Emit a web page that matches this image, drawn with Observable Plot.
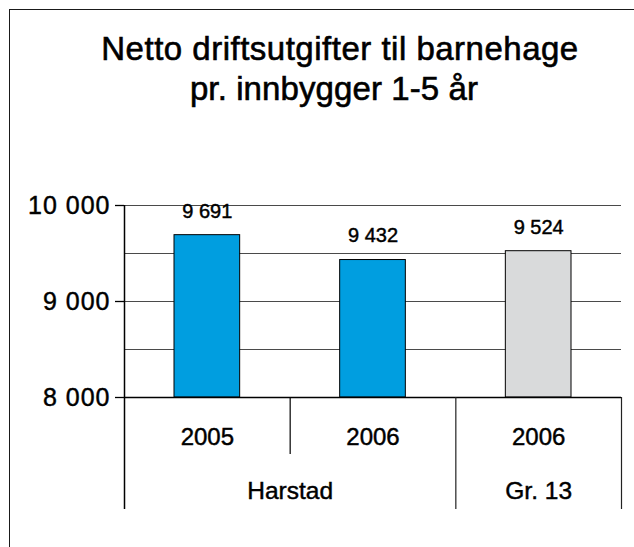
<!DOCTYPE html>
<html>
<head>
<meta charset="utf-8">
<script src="https://cdn.jsdelivr.net/npm/d3@7"></script>
<script src="https://cdn.jsdelivr.net/npm/@observablehq/plot@0.6"></script>
<style>
  body { margin: 0; background: #fff; }
  #wrap { position: relative; width: 634px; height: 547px; overflow: hidden;
          font-family: Arial, "Liberation Sans", Helvetica, sans-serif; color: #000; }
  #frame { position: absolute; left: 9px; top: 9px; width: 700px; height: 700px;
           border-top: 1.5px solid #1a1a1a; border-left: 1.5px solid #1a1a1a; }
  .t { position: absolute; left: 0; width: 634px; text-align: center; font-size: 33px;
       line-height: 40px; white-space: nowrap; color: #000; -webkit-text-stroke: 0.6px #000; }
  #t1 { top: 29px; left: 23px; letter-spacing: 0.5px; }
  #t2 { top: 69px; left: 17px; letter-spacing: 0.1px; }
  #chart { position: absolute; left: 0; top: 140px; }
  #chart text { stroke: #000; stroke-width: 0.45px; }
  g[aria-label="y-axis tick label"] text { letter-spacing: 1px; }
  g[aria-label="year labels"] text { letter-spacing: 1.3px; }
  g[aria-label="group labels"] text { letter-spacing: 1.1px; }
  g[aria-label="value labels"] text { letter-spacing: 0.5px; }
</style>
</head>
<body>
<div id="wrap">
  <div id="frame"></div>
  <div class="t" id="t1"></div>
  <div class="t" id="t2"></div>
  <div id="chart"></div>
</div>
<script>
// ---- data ----
const titleLines = ["Netto driftsutgifter til barnehage", "pr. innbygger 1-5 år"];
const categories = ["2005", "2006", "2006"];
const groups = ["Harstad", "Harstad", "Gr. 13"];
const values = [9691, 9432, 9524];
const yTicks = [8000, 9000, 10000];
const gridValues = [8500, 9000, 9500, 10000];
const groupNames = ["Harstad", "Gr. 13"];
const groupColors = ["#009ee0", "#d9dadb"];
const yMin = 8000, yMax = 10000;

// ---- derived tables ----
const n = categories.length;
const bars = categories.map((c, i) => ({i, category: c, group: groups[i], value: values[i]}));
const spans = [];
groups.forEach((g, i) => {
  if (i === 0 || g !== groups[i - 1]) spans.push({group: g, start: i, end: i + 1});
  else spans[spans.length - 1].end = i + 1;
});
const shortSeps = [], longSeps = [];
for (let i = 1; i <= n; i++) {
  if (i === n || groups[i] !== groups[i - 1]) longSeps.push(i); else shortSeps.push(i);
}
const fmt = d => d3.format(",")(d).replace(/,/g, " ");

document.getElementById("t1").textContent = titleLines[0];
document.getElementById("t2").textContent = titleLines[1];

const chart = Plot.plot({
  width: 634,
  height: 407,
  marginTop: 65,
  marginBottom: 150,
  marginLeft: 124,
  marginRight: 13,
  style: {fontFamily: 'Arial, "Liberation Sans", Helvetica, sans-serif', color: "#000", background: "transparent", overflow: "visible"},
  x: {type: "linear", domain: [0, n], axis: null},
  y: {domain: [yMin, yMax], axis: null},
  color: {domain: groupNames, range: groupColors},
  marks: [
    Plot.ruleY(gridValues, {x1: 0, x2: n, stroke: "#4a4a4a", strokeWidth: 1.2}),
    Plot.rectY(bars, {x1: d => d.i, x2: d => d.i + 1, y1: yMin, y2: "value", fill: "group",
      stroke: "#000", strokeWidth: 1, insetLeft: 50, insetRight: 50}),
    Plot.ruleY([yMin], {x1: 0, x2: n, stroke: "#000", strokeWidth: 1.5}),
    Plot.ruleX([0], {y1: yMax, y2: yMin, insetBottom: -112, stroke: "#000", strokeWidth: 1.5}),
    Plot.ruleX(shortSeps, {y1: yMin, y2: yMin, insetBottom: -57, stroke: "#000", strokeWidth: 1.2}),
    Plot.ruleX(longSeps, {y1: yMin, y2: yMin, insetBottom: -112, stroke: "#222", strokeWidth: 1.2}),
    Plot.axisY(yTicks, {anchor: "left", label: null, tickFormat: fmt, tickSize: 9, tickPadding: 5, fontSize: 25, strokeWidth: 1.3}),
    Plot.text(bars, {x: d => d.i + 0.5, y: "value", text: d => fmt(d.value), dy: -24, fontSize: 20, ariaLabel: "value labels"}),
    Plot.text(bars, {x: d => d.i + 0.5, y: yMin, text: "category", dy: 40, fontSize: 24, ariaLabel: "year labels"}),
    Plot.text(spans, {x: d => (d.start + d.end) / 2, y: yMin, text: "group", dy: 94, fontSize: 24.5, ariaLabel: "group labels"})
  ]
});
document.getElementById("chart").appendChild(chart);
</script>
</body>
</html>
